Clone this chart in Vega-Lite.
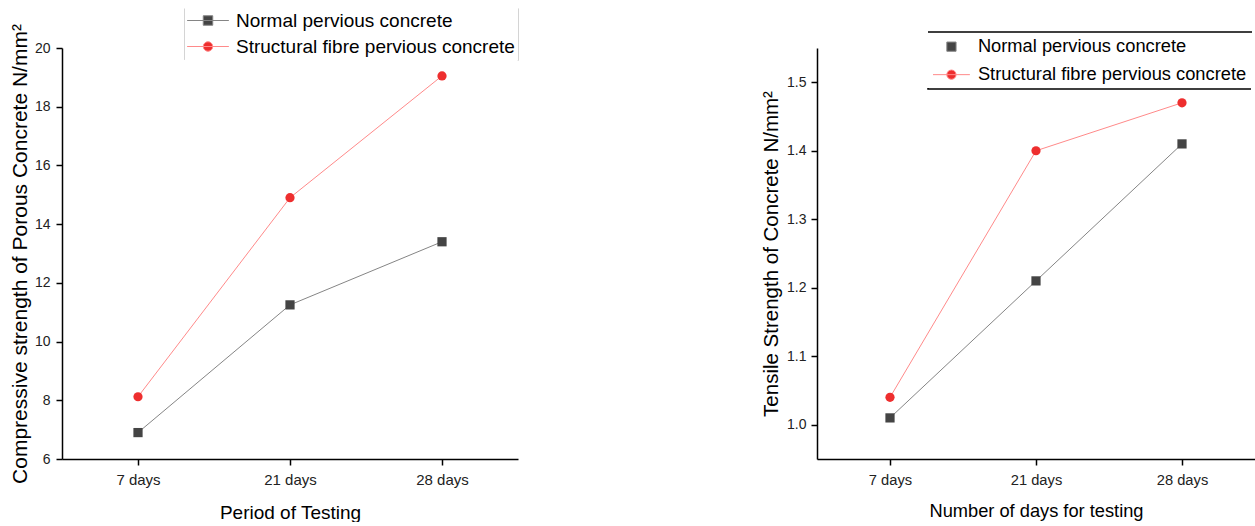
{
  "$schema": "https://vega.github.io/schema/vega-lite/v6.json",
  "background": "white",
  "padding": {"left": 9, "top": 7, "right": 0, "bottom": 0},
  "config": {
    "view": {"stroke": null},
    "font": "Liberation Sans",
    "axis": {
      "grid": false,
      "domainColor": "#000000",
      "domainWidth": 1.5,
      "tickColor": "#000000",
      "tickWidth": 1.5,
      "tickSize": 6,
      "labelColor": "#222222",
      "labelFont": "Liberation Sans",
      "titleFont": "Liberation Sans",
      "titleFontWeight": "normal",
      "titleColor": "#000000"
    },
    "legend": {"symbolStrokeWidth": 1, "symbolOpacity": 1}
  },
  "datasets": {
    "compressive": [
      {"period": "7 days", "series": "Normal pervious concrete", "value": 6.9},
      {"period": "21 days", "series": "Normal pervious concrete", "value": 11.25},
      {"period": "28 days", "series": "Normal pervious concrete", "value": 13.4},
      {"period": "7 days", "series": "Structural fibre pervious concrete", "value": 8.12},
      {"period": "21 days", "series": "Structural fibre pervious concrete", "value": 14.9},
      {"period": "28 days", "series": "Structural fibre pervious concrete", "value": 19.05}
    ],
    "tensile": [
      {"period": "7 days", "series": "Normal pervious concrete", "value": 1.01},
      {"period": "21 days", "series": "Normal pervious concrete", "value": 1.21},
      {"period": "28 days", "series": "Normal pervious concrete", "value": 1.41},
      {"period": "7 days", "series": "Structural fibre pervious concrete", "value": 1.04},
      {"period": "21 days", "series": "Structural fibre pervious concrete", "value": 1.4},
      {"period": "28 days", "series": "Structural fibre pervious concrete", "value": 1.47}
    ]
  },
  "spacing": 242,
  "resolve": {
    "scale": {"x": "independent", "y": "independent", "color": "independent", "stroke": "independent", "shape": "independent"},
    "legend": {"color": "independent", "stroke": "independent", "shape": "independent"}
  },
  "hconcat": [
    {
      "width": 456,
      "height": 411,
      "data": {"name": "compressive"},
      "encoding": {
        "x": {
          "field": "period", "type": "nominal",
          "sort": ["7 days", "21 days", "28 days"],
          "scale": {"type": "point", "padding": 0.5},
          "axis": {"title": "Period of Testing", "labelAngle": 0, "labelFontSize": 15, "labelPadding": 7, "titleFontSize": 19, "titlePadding": 16}
        },
        "y": {
          "field": "value", "type": "quantitative",
          "scale": {"domain": [6, 20], "nice": false, "zero": false},
          "axis": {"title": "Compressive strength of Porous Concrete N/mm²", "values": [6, 8, 10, 12, 14, 16, 18, 20], "labelFontSize": 14, "labelPadding": 6, "titleFontSize": 21, "titlePadding": 4}
        }
      },
      "layer": [
        {
          "mark": {"type": "line", "strokeWidth": 1},
          "encoding": {
            "stroke": {
              "field": "series", "type": "nominal",
              "scale": {"domain": ["Normal pervious concrete", "Structural fibre pervious concrete"], "range": ["#858585", "#ff8a8a"]},
              "legend": {
                "title": null, "orient": "none", "legendX": 122, "legendY": -40, "padding": 3, "rowPadding": 6,
                "symbolOffset": 11.5, "labelOffset": 18.5, "symbolSize": 90, "symbolStrokeWidth": 1,
                "labelFont": "Liberation Sans", "labelFontSize": 19, "labelColor": "#000000", "labelLimit": 400,
                "strokeColor": "#d4d4d4",
                "encode": {"legend": {"update": {"strokeDash": {"value": [0, 333.8, 53, 333.8, 53, 0]}, "strokeWidth": {"value": 1}}}}
              }
            }
          }
        },
        {
          "transform": [{"filter": "false"}],
          "mark": {"type": "point", "filled": true, "opacity": 1, "size": 90},
          "encoding": {
            "shape": {
              "field": "series", "type": "nominal",
              "scale": {"domain": ["Normal pervious concrete", "Structural fibre pervious concrete"], "range": ["M-4.4,0H4.4M-1,-1H1V1H-1Z", "M-4.4,0H4.4M1,0A1,1,0,1,1,-1,0A1,1,0,1,1,1,0Z"]},
              "legend": {
                "title": null, "orient": "none", "legendX": 122, "legendY": -40, "padding": 3, "rowPadding": 6,
                "symbolOffset": 11.5, "labelOffset": 18.5, "symbolSize": 90, "symbolStrokeWidth": 1,
                "labelFont": "Liberation Sans", "labelFontSize": 19, "labelColor": "#000000", "labelLimit": 400,
                "strokeColor": "#d4d4d4",
                "encode": {"legend": {"update": {"strokeDash": {"value": [0, 333.8, 53, 333.8, 53, 0]}, "strokeWidth": {"value": 1}}}}
              }
            },
            "color": {
              "field": "series", "type": "nominal",
              "scale": {"domain": ["Normal pervious concrete", "Structural fibre pervious concrete"], "range": ["#444444", "#ee2e2e"]},
              "legend": {
                "title": null, "orient": "none", "legendX": 122, "legendY": -40, "padding": 3, "rowPadding": 6,
                "symbolOffset": 11.5, "labelOffset": 18.5, "symbolSize": 90, "symbolStrokeWidth": 1,
                "labelFont": "Liberation Sans", "labelFontSize": 19, "labelColor": "#000000", "labelLimit": 400,
                "strokeColor": "#d4d4d4",
                "encode": {"legend": {"update": {"strokeDash": {"value": [0, 333.8, 53, 333.8, 53, 0]}, "strokeWidth": {"value": 1}}}}
              }
            }
          }
        },
        {
          "transform": [{"filter": "datum.series === 'Normal pervious concrete'"}],
          "mark": {"type": "point", "shape": "square", "filled": true, "color": "#444444", "opacity": 1, "size": 85}
        },
        {
          "transform": [{"filter": "datum.series === 'Structural fibre pervious concrete'"}],
          "mark": {"type": "point", "shape": "circle", "filled": true, "color": "#ee2e2e", "opacity": 1, "size": 85}
        }
      ]
    },
    {
      "width": 438,
      "height": 411,
      "data": {"name": "tensile"},
      "encoding": {
        "x": {
          "field": "period", "type": "nominal",
          "sort": ["7 days", "21 days", "28 days"],
          "scale": {"type": "point", "padding": 0.5},
          "axis": {"title": "Number of days for testing", "labelAngle": 0, "labelFontSize": 14.7, "labelPadding": 7, "titleFontSize": 18.25, "titlePadding": 16}
        },
        "y": {
          "field": "value", "type": "quantitative",
          "scale": {"domain": [0.95, 1.55], "nice": false, "zero": false},
          "axis": {"title": "Tensile Strength of Concrete N/mm²", "values": [1.0, 1.1, 1.2, 1.3, 1.4, 1.5], "format": ".1f", "labelFontSize": 14, "labelPadding": 5, "titleFontSize": 20.5, "titlePadding": 5}
        }
      },
      "layer": [
        {
          "mark": {"type": "line", "strokeWidth": 1},
          "encoding": {
            "stroke": {
              "field": "series", "type": "nominal",
              "scale": {"domain": ["Normal pervious concrete", "Structural fibre pervious concrete"], "range": ["#858585", "#ff8a8a"]},
              "legend": {
                "title": null, "orient": "none", "legendX": 111, "legendY": -16, "padding": 5.5, "rowPadding": 9,
                "symbolOffset": 8.8, "labelOffset": 17.3, "symbolSize": 85, "symbolStrokeWidth": 1,
                "labelFont": "Liberation Sans", "labelFontSize": 18.3, "labelColor": "#000000", "labelLimit": 400,
                "strokeColor": "#000000",
                "encode": {"legend": {"update": {"strokeDash": {"value": [324, 58]}, "strokeWidth": {"value": 1.5}}}}
              }
            }
          }
        },
        {
          "transform": [{"filter": "false"}],
          "mark": {"type": "point", "filled": true, "opacity": 1, "size": 85},
          "encoding": {
            "shape": {
              "field": "series", "type": "nominal",
              "scale": {"domain": ["Normal pervious concrete", "Structural fibre pervious concrete"], "range": ["M-1,-1H1V1H-1Z", "M-4,0H4M1,0A1,1,0,1,1,-1,0A1,1,0,1,1,1,0Z"]},
              "legend": {
                "title": null, "orient": "none", "legendX": 111, "legendY": -16, "padding": 5.5, "rowPadding": 9,
                "symbolOffset": 8.8, "labelOffset": 17.3, "symbolSize": 85, "symbolStrokeWidth": 1,
                "labelFont": "Liberation Sans", "labelFontSize": 18.3, "labelColor": "#000000", "labelLimit": 400,
                "strokeColor": "#000000",
                "encode": {"legend": {"update": {"strokeDash": {"value": [324, 58]}, "strokeWidth": {"value": 1.5}}}}
              }
            },
            "color": {
              "field": "series", "type": "nominal",
              "scale": {"domain": ["Normal pervious concrete", "Structural fibre pervious concrete"], "range": ["#444444", "#ee2e2e"]},
              "legend": {
                "title": null, "orient": "none", "legendX": 111, "legendY": -16, "padding": 5.5, "rowPadding": 9,
                "symbolOffset": 8.8, "labelOffset": 17.3, "symbolSize": 85, "symbolStrokeWidth": 1,
                "labelFont": "Liberation Sans", "labelFontSize": 18.3, "labelColor": "#000000", "labelLimit": 400,
                "strokeColor": "#000000",
                "encode": {"legend": {"update": {"strokeDash": {"value": [324, 58]}, "strokeWidth": {"value": 1.5}}}}
              }
            }
          }
        },
        {
          "transform": [{"filter": "datum.series === 'Normal pervious concrete'"}],
          "mark": {"type": "point", "shape": "square", "filled": true, "color": "#444444", "opacity": 1, "size": 85}
        },
        {
          "transform": [{"filter": "datum.series === 'Structural fibre pervious concrete'"}],
          "mark": {"type": "point", "shape": "circle", "filled": true, "color": "#ee2e2e", "opacity": 1, "size": 85}
        }
      ]
    }
  ]
}
